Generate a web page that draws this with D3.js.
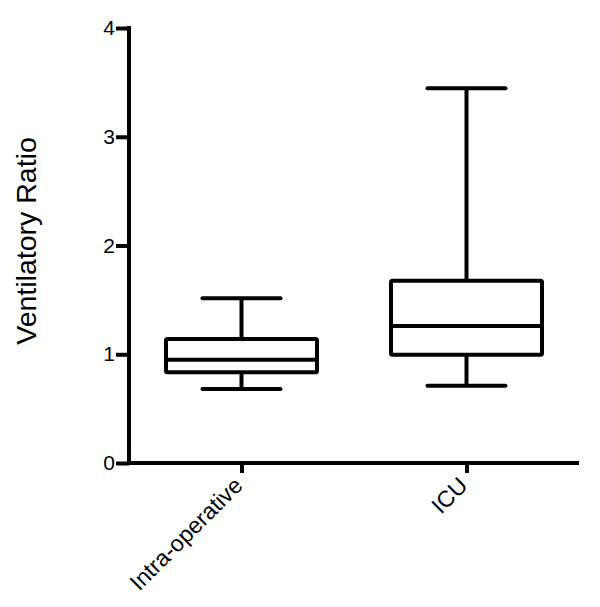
<!DOCTYPE html>
<html><head><meta charset="utf-8">
<script src="https://cdn.jsdelivr.net/npm/d3@7"></script>
<style>body{margin:0;background:#fff}svg{display:block}</style>
</head><body>
<script>
const categories = ["Intra-operative", "ICU"];
const whiskerMin = [0.68, 0.71];
const q1 = [0.835, 0.995];
const median = [0.95, 1.26];
const q3 = [1.14, 1.675];
const whiskerMax = [1.515, 3.445];
const yTicks = [0, 1, 2, 3, 4];
const yTitle = "Ventilatory Ratio";

const W = 600, H = 607;
const svg = d3.select("body").append("svg").attr("width", W).attr("height", H);
const font = "Liberation Sans, Arial, sans-serif";

const x = d3.scalePoint().domain(categories).range([129, 579]).padding(0.5);
const y = d3.scaleLinear().domain([0, 4]).range([463, 28]);
const boxW = 151, capW = 78, sw = 4;

const data = categories.map((c, i) => ({c, lo: whiskerMin[i], q1: q1[i], med: median[i], q3: q3[i], hi: whiskerMax[i]}));

const g = svg.append("g").attr("stroke", "#000").attr("stroke-width", sw).attr("fill", "none");
data.forEach(d => {
  const cx = x(d.c);
  g.append("line").attr("x1", cx).attr("x2", cx).attr("y1", y(d.hi)).attr("y2", y(d.q3));
  g.append("line").attr("x1", cx).attr("x2", cx).attr("y1", y(d.q1)).attr("y2", y(d.lo));
  g.append("line").attr("x1", cx - capW/2).attr("x2", cx + capW/2).attr("y1", y(d.hi)).attr("y2", y(d.hi)).attr("stroke-linecap", "round");
  g.append("line").attr("x1", cx - capW/2).attr("x2", cx + capW/2).attr("y1", y(d.lo)).attr("y2", y(d.lo)).attr("stroke-linecap", "round");
  g.append("rect").attr("x", cx - boxW/2).attr("y", y(d.q3)).attr("width", boxW).attr("height", y(d.q1) - y(d.q3)).attr("rx", 1.5);
  g.append("line").attr("x1", cx - boxW/2).attr("x2", cx + boxW/2).attr("y1", y(d.med)).attr("y2", y(d.med));
});

// Y axis
const yAxis = svg.append("g").attr("transform", "translate(129,0)")
  .call(d3.axisLeft(y).tickValues(yTicks).tickFormat(d3.format("d")).tickSize(13).tickPadding(1));
yAxis.select(".domain").attr("d", `M0,${y(4)-2}V${y(0)+2}`).attr("stroke-width", sw).attr("stroke", "#000");
yAxis.selectAll(".tick line").attr("stroke-width", sw).attr("stroke", "#000");
yAxis.selectAll(".tick text").attr("font-family", font).attr("font-size", 21).attr("fill", "#000");

// X axis
const xAxis = svg.append("g").attr("transform", "translate(0,463)")
  .call(d3.axisBottom(x).tickSize(10).tickPadding(4));
xAxis.select(".domain").attr("d", "M127,0H579").attr("stroke-width", sw).attr("stroke", "#000");
xAxis.selectAll(".tick line").attr("stroke-width", sw).attr("stroke", "#000");
xAxis.selectAll(".tick text").attr("font-family", font).attr("font-size", 23).attr("fill", "#000")
  .attr("text-anchor", "end").attr("dy", null)
  .attr("transform", "translate(2,24) rotate(-45)").attr("y", 0).attr("x", 0);

// Y title
svg.append("text").attr("transform", "translate(36,241) rotate(-90)")
  .attr("text-anchor", "middle").attr("font-family", font).attr("font-size", 28.5).attr("fill", "#000")
  .text(yTitle);
</script>
</body></html>
